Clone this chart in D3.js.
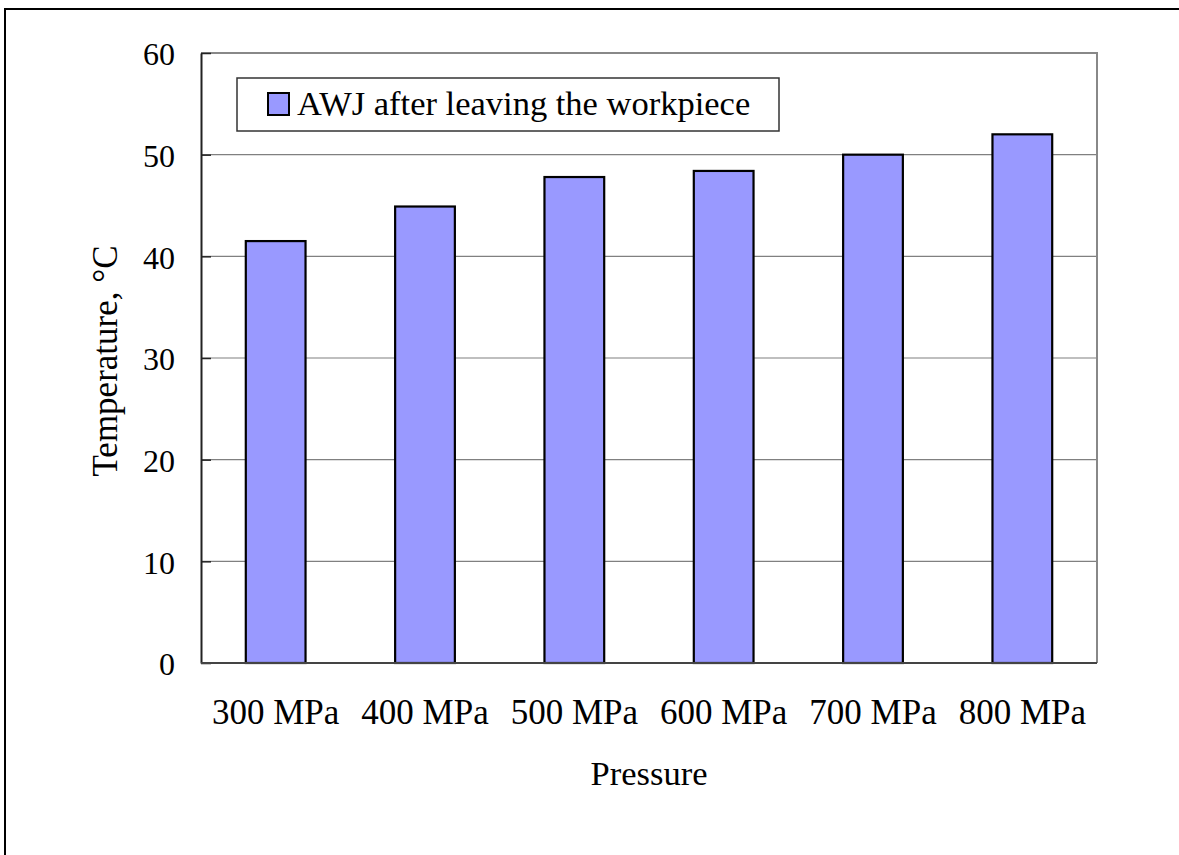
<!DOCTYPE html>
<html>
<head>
<meta charset="utf-8">
<script src="https://cdn.jsdelivr.net/npm/d3@7"></script>
<style>
html,body{margin:0;padding:0;background:#fff;}
svg{display:block;}
text{font-family:"Liberation Serif","Times New Roman",serif;fill:#000;}
</style>
</head>
<body>
<script>
const categories = ["300 MPa","400 MPa","500 MPa","600 MPa","700 MPa","800 MPa"];
const values = [41.5, 44.9, 47.8, 48.4, 50.0, 52.0];
const yTicks = [0,10,20,30,40,50,60];
const seriesName = "AWJ after leaving the workpiece";
const xTitle = "Pressure";
const yTitle = "Temperature, °C";

const W = 1179, H = 855;
const m = {left:201, top:53, right:1097, bottom:663};

const svg = d3.select("body").append("svg").attr("width",W).attr("height",H);

// outer frame
svg.append("rect").attr("x",5).attr("y",9).attr("width",W+20).attr("height",H+20)
  .attr("fill","none").attr("stroke","#000").attr("stroke-width",2);

const x = d3.scaleBand().domain(categories).range([m.left,m.right]).paddingInner(0.6).paddingOuter(0.3);
const y = d3.scaleLinear().domain([0,60]).range([m.bottom,m.top]);

// gridlines
svg.append("g").selectAll("line").data(yTicks.filter(d=>d>0 && d<60)).join("line")
  .attr("x1",m.left).attr("x2",m.right)
  .attr("y1",d=>y(d)).attr("y2",d=>y(d))
  .attr("stroke","#808080").attr("stroke-width",1.2);

// plot frame top/right
svg.append("path").attr("d",`M${m.left},${m.top}H${m.right}V${m.bottom}`)
  .attr("fill","none").attr("stroke","#888").attr("stroke-width",2);

// bars
svg.append("g").selectAll("rect").data(values).join("rect")
  .attr("x",(d,i)=>x(categories[i]))
  .attr("width",x.bandwidth())
  .attr("y",d=>y(d))
  .attr("height",d=>y(0)-y(d))
  .attr("fill","#9999FF").attr("stroke","#000").attr("stroke-width",2.2);

// y axis
const yAxis = d3.axisLeft(y).tickValues(yTicks).tickSizeInner(-10).tickSizeOuter(0).tickPadding(26).tickFormat(d3.format("d"));
const gy = svg.append("g").attr("transform",`translate(${m.left},0)`).call(yAxis);
gy.select(".domain").attr("stroke","#222").attr("stroke-width",2);
gy.selectAll(".tick line").attr("stroke","#222").attr("stroke-width",1.5);
gy.selectAll(".tick text").attr("font-size",32).attr("font-family","Liberation Serif").attr("dy","0.37em").attr("fill","#000");

// x axis
const xAxis = d3.axisBottom(x).tickSize(0).tickPadding(0);
const gx = svg.append("g").attr("transform",`translate(0,${m.bottom})`).call(xAxis);
gx.select(".domain").attr("stroke","#444").attr("stroke-width",2).attr("d",`M${m.left},0H${m.right}`);
gx.selectAll(".tick text").attr("font-size",35).attr("font-family","Liberation Serif").attr("y",61).attr("dy",0).attr("fill","#000");

// axis titles
svg.append("text").attr("x",(m.left+m.right)/2).attr("y",785).attr("text-anchor","middle")
  .attr("font-size",34.5).text(xTitle);
svg.append("text").attr("transform",`translate(117,361) rotate(-90)`)
  .attr("text-anchor","middle").attr("font-size",35).text(yTitle);

// legend
const lg = svg.append("g");
lg.append("rect").attr("x",237).attr("y",78).attr("width",542).attr("height",53)
  .attr("fill","#fff").attr("stroke","#333").attr("stroke-width",1.5);
lg.append("rect").attr("x",268).attr("y",93).attr("width",21).attr("height",22)
  .attr("fill","#9999FF").attr("stroke","#000").attr("stroke-width",2);
lg.append("text").attr("x",297).attr("y",115).attr("font-size",34.5).text(seriesName);
</script>
</body>
</html>
